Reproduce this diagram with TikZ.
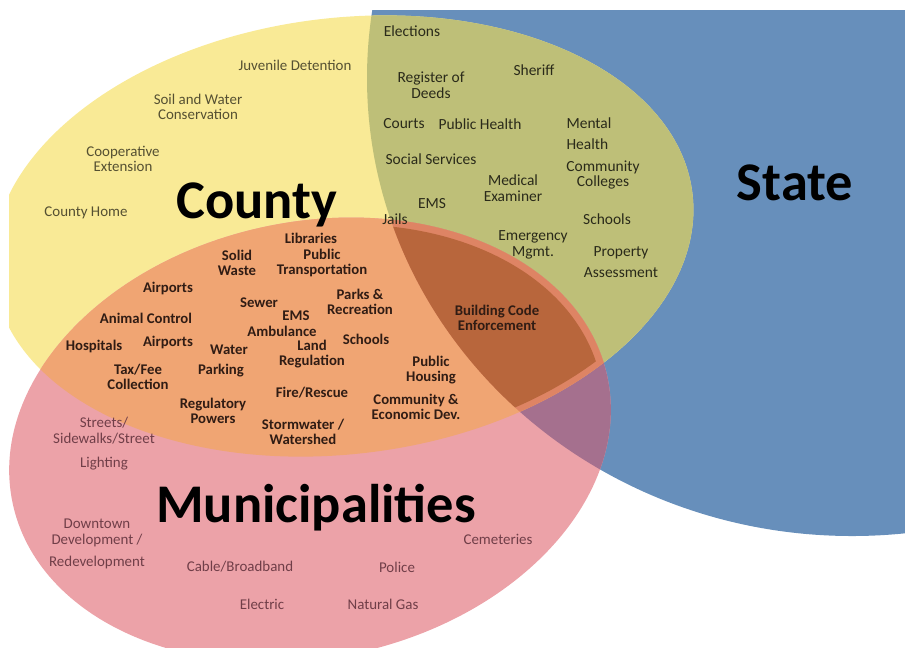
\documentclass[tikz,border=0pt]{standalone}
\usepackage{fontspec}
\setmainfont{Carlito}

\definecolor{statefill}{RGB}{103,143,187}
\definecolor{countyfill}{RGB}{249,234,150}
\definecolor{munifill}{RGB}{236,162,168}
\definecolor{olivefill}{RGB}{190,191,120}
\definecolor{purplefill}{RGB}{165,112,142}
\definecolor{orangefill}{RGB}{240,165,115}
\definecolor{rimfill}{RGB}{222,132,100}
\definecolor{brownfill}{RGB}{184,102,60}
\definecolor{countytext}{RGB}{85,80,50}
\definecolor{sharedtext}{RGB}{42,42,26}
\definecolor{bothtext}{RGB}{48,28,20}
\definecolor{munitext}{RGB}{112,62,72}

\newcommand{\stateshape}{(852,78) ellipse [x radius=485, y radius=458]}
\newcommand{\countyshape}{[rotate around={7:(343,236)}] (343,236) ellipse [x radius=352, y radius=218]}
\newcommand{\munishape}{[rotate around={12:(310,440)}] (310,440) ellipse [x radius=304, y radius=218]}
\newcommand{\countyinner}{[rotate around={7:(343,236)}] (343,236) ellipse [x radius=346, y radius=212]}
\newcommand{\muniinner}{[rotate around={12:(310,440)}] (310,440) ellipse [x radius=297, y radius=211]}

\begin{document}
\begin{tikzpicture}[x=0.2mm, y=-0.2mm,
  lbl/.style={align=center, inner sep=0pt, font=\fontsize{8.5}{8.9}\selectfont},
  cty/.style={lbl, text=countytext},
  shr/.style={lbl, text=sharedtext, font=\fontsize{8.8}{9.1}\selectfont},
  both/.style={lbl, text=bothtext, font=\bfseries\fontsize{8.4}{8.9}\selectfont},
  mun/.style={lbl, text=munitext},
  big/.style={anchor=base, inner sep=0pt, font=\bfseries\fontsize{31}{31}\selectfont}]
  \useasboundingbox (0,0) rectangle (905,647);

  \begin{scope}
    \clip (9,10) rectangle (905,647);
    \fill[statefill] \stateshape;
    \fill[countyfill] \countyshape;
    \fill[munifill] \munishape;
    \begin{scope}
      \clip \stateshape;
      \fill[olivefill] \countyshape;
      \fill[purplefill] \munishape;
    \end{scope}
    \begin{scope}
      \clip \countyshape;
      \fill[orangefill] \munishape;
    \end{scope}
    \begin{scope}
      \clip \stateshape;
      \clip \countyshape;
      \fill[rimfill] \munishape;
      \clip \countyinner;
      \fill[brownfill] \muniinner;
    \end{scope}
  \end{scope}

  \node[cty] (juvenile) at (295,65) {Juvenile Detention};
  \node[cty] (soil) at (198,107) {Soil and Water\\Conservation};
  \node[cty] (coop) at (123,159) {Cooperative\\Extension};
  \node[cty] (home) at (86,213) {County Home};
  \node[big] (county) at (257,218) {County};

  \node[shr] (elections) at (412,31) {Elections};
  \node[shr] (deeds) at (431,85) {Register of\\Deeds};
  \node[shr] (sheriff) at (534,70) {Sheriff};
  \node[shr] (courts) at (404,124) {Courts};
  \node[shr] (health) at (480,124) {Public Health};
  \node[shr, align=left] (mental) at (589,134) {Mental\\[3pt]Health};
  \node[shr] (social) at (431,159) {Social Services};
  \node[shr] (colleges) at (603,175) {Community\\Colleges};
  \node[shr] (examiner) at (513,188) {Medical\\Examiner};
  \node[shr] (emsA) at (432,204) {EMS};
  \node[shr] (jails) at (395,219) {Jails};
  \node[shr] (schoolsA) at (607,219) {Schools};
  \node[shr] (emergency) at (533,245) {Emergency\\Mgmt.};
  \node[shr] (property) at (621,262) {Property\\[3pt]Assessment};
  \node[big] (state) at (795,200) {State};

  \node[both] (libraries) at (311,238) {Libraries};
  \node[both] (solid) at (237,263) {Solid\\Waste};
  \node[both] (transport) at (322,263) {Public\\Transportation};
  \node[both] (airportsA) at (168,288) {Airports};
  \node[both] (sewer) at (259,303) {Sewer};
  \node[both] (parks) at (360,302) {Parks \&\\Recreation};
  \node[both] (emsB) at (296,316) {EMS};
  \node[both] (animal) at (146,318) {Animal Control};
  \node[both] (ambulance) at (282,331) {Ambulance};
  \node[both] (schoolsB) at (366,339) {Schools};
  \node[both] (hospitals) at (94,346) {Hospitals};
  \node[both] (airportsB) at (168,342) {Airports};
  \node[both] (water) at (229,350) {Water};
  \node[both] (land) at (312,354) {Land\\Regulation};
  \node[both] (housing) at (431,370) {Public\\Housing};
  \node[both] (tax) at (138,377) {Tax/Fee\\Collection};
  \node[both] (parking) at (221,371) {Parking};
  \node[both] (fire) at (312,393) {Fire/Rescue};
  \node[both] (community) at (416,407) {Community \&\\Economic Dev.};
  \node[both] (regulatory) at (213,411) {Regulatory\\Powers};
  \node[both] (storm) at (303,432) {Stormwater /\\Watershed};
  \node[both] (building) at (497,318) {Building Code\\Enforcement};

  \node[mun] (streets) at (104,444) {Streets/\\Sidewalks/Street\\[5pt]Lighting};
  \node[big] (muni) at (316,522) {Municipalities};
  \node[mun] (downtown) at (97,544) {Downtown\\Development /\\[4pt]Redevelopment};
  \node[mun] (cable) at (240,567) {Cable/Broadband};
  \node[mun] (electric) at (262,604) {Electric};
  \node[mun] (police) at (397,567) {Police};
  \node[mun] (gas) at (383,604) {Natural Gas};
  \node[mun] (cemeteries) at (498,539) {Cemeteries};
\end{tikzpicture}
\end{document}
